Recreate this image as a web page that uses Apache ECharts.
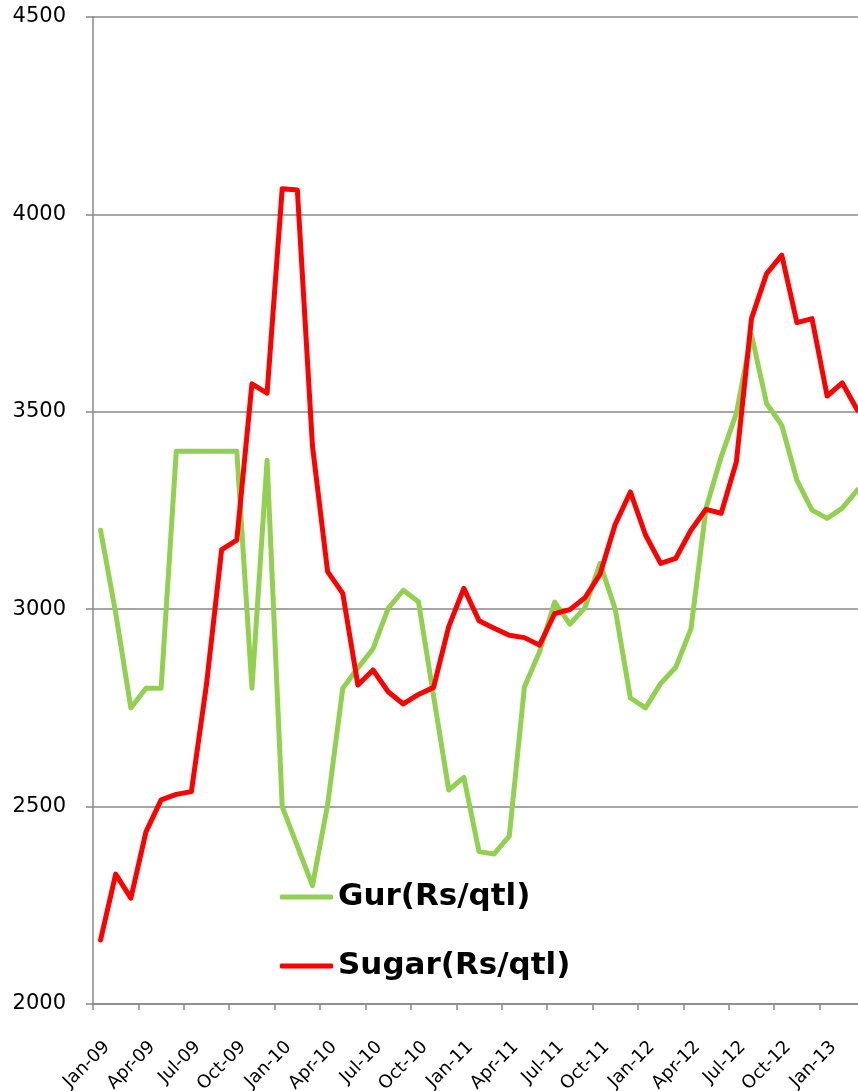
<!DOCTYPE html>
<html>
<head>
<meta charset="utf-8">
<script src="https://cdn.jsdelivr.net/npm/echarts@6/dist/echarts.min.js"></script>
<style>
  html, body { margin: 0; padding: 0; background: #fff; }
  #chart { width: 858px; height: 1091px; }
</style>
</head>
<body>
<div id="chart"></div>
<script>
var months = [
  'Jan-09','Feb-09','Mar-09','Apr-09','May-09','Jun-09','Jul-09','Aug-09','Sep-09','Oct-09','Nov-09','Dec-09',
  'Jan-10','Feb-10','Mar-10','Apr-10','May-10','Jun-10','Jul-10','Aug-10','Sep-10','Oct-10','Nov-10','Dec-10',
  'Jan-11','Feb-11','Mar-11','Apr-11','May-11','Jun-11','Jul-11','Aug-11','Sep-11','Oct-11','Nov-11','Dec-11',
  'Jan-12','Feb-12','Mar-12','Apr-12','May-12','Jun-12','Jul-12','Aug-12','Sep-12','Oct-12','Nov-12','Dec-12',
  'Jan-13','Feb-13','Mar-13'
];

// Gur(Rs/qtl)
var gurData = [
  3200, 2990, 2750, 2800, 2800, 3400, 3400, 3400, 3400, 3400, 2800, 3377,
  2500, 2400, 2300, 2505, 2800, 2851, 2900, 3002, 3048, 3019, 2780, 2542,
  2574, 2386, 2380, 2425, 2803, 2892, 3018, 2962, 3004, 3116, 3000, 2775,
  2750, 2812, 2853, 2950, 3256, 3386, 3496, 3695, 3521, 3466, 3327, 3251,
  3230, 3256, 3302
];

// Sugar(Rs/qtl)
var sugarData = [
  2162, 2329, 2268, 2436, 2517, 2531, 2538, 2810, 3151, 3175, 3571, 3547,
  4065, 4062, 3413, 3095, 3040, 2808, 2846, 2791, 2760, 2784, 2802, 2956,
  3053, 2971, 2952, 2934, 2928, 2909, 2989, 2999, 3029, 3089, 3215, 3297,
  3188, 3116, 3129, 3200, 3253, 3243, 3373, 3736, 3850, 3897, 3726, 3736,
  3540, 3573, 3504
];

var yTicks = { min: 2000, max: 4500, interval: 500 };

var axisGray = '#898989';
var fontName = 'DejaVu Sans';

var chart = echarts.init(document.getElementById('chart'), null, { renderer: 'canvas' });
chart.setOption({
  animation: false,
  backgroundColor: '#ffffff',
  grid: {
    left: 93,
    top: 17,
    width: 772,
    height: 987,
    containLabel: false,
    outerBoundsMode: 'none'
  },
  legend: {
    orient: 'vertical',
    left: 280,
    top: 881,
    padding: 0,
    icon: 'roundRect',
    itemWidth: 53,
    itemHeight: 5,
    itemGap: 37,
    data: ['Gur(Rs/qtl)', 'Sugar(Rs/qtl)'],
    textStyle: {
      fontFamily: fontName,
      fontWeight: 'bold',
      fontSize: 31,
      lineHeight: 32,
      color: '#000000'
    }
  },
  xAxis: {
    type: 'category',
    data: months,
    boundaryGap: true,
    axisLine: { show: true, lineStyle: { color: axisGray, width: 1.5 } },
    axisTick: { show: true, interval: 2, length: 6, alignWithLabel: false, lineStyle: { color: axisGray, width: 1.5 } },
    axisLabel: {
      interval: 2,
      rotate: 45,
      margin: 34,
      verticalAlign: 'top',
      fontFamily: fontName,
      fontSize: 18,
      color: '#000000'
    },
    splitLine: { show: false }
  },
  yAxis: {
    type: 'value',
    min: yTicks.min,
    max: yTicks.max,
    interval: yTicks.interval,
    axisLine: { show: true, lineStyle: { color: axisGray, width: 1.5 } },
    axisTick: { show: true, length: 7, lineStyle: { color: axisGray, width: 1.5 } },
    axisLabel: {
      margin: 27,
      fontFamily: fontName,
      fontSize: 21,
      color: '#000000',
      formatter: function (v) { return String(v); }
    },
    splitLine: { show: true, lineStyle: { color: axisGray, width: 1.5 } }
  },
  series: [
    {
      name: 'Gur(Rs/qtl)',
      type: 'line',
      data: gurData,
      symbol: 'none',
      smooth: false,
      lineStyle: { color: '#92D050', width: 5, join: 'round', cap: 'round' },
      itemStyle: { color: '#92D050' }
    },
    {
      name: 'Sugar(Rs/qtl)',
      type: 'line',
      data: sugarData,
      symbol: 'none',
      smooth: false,
      lineStyle: { color: '#FF0000', width: 5, join: 'round', cap: 'round' },
      itemStyle: { color: '#FF0000' }
    }
  ]
});
</script>
</body>
</html>
